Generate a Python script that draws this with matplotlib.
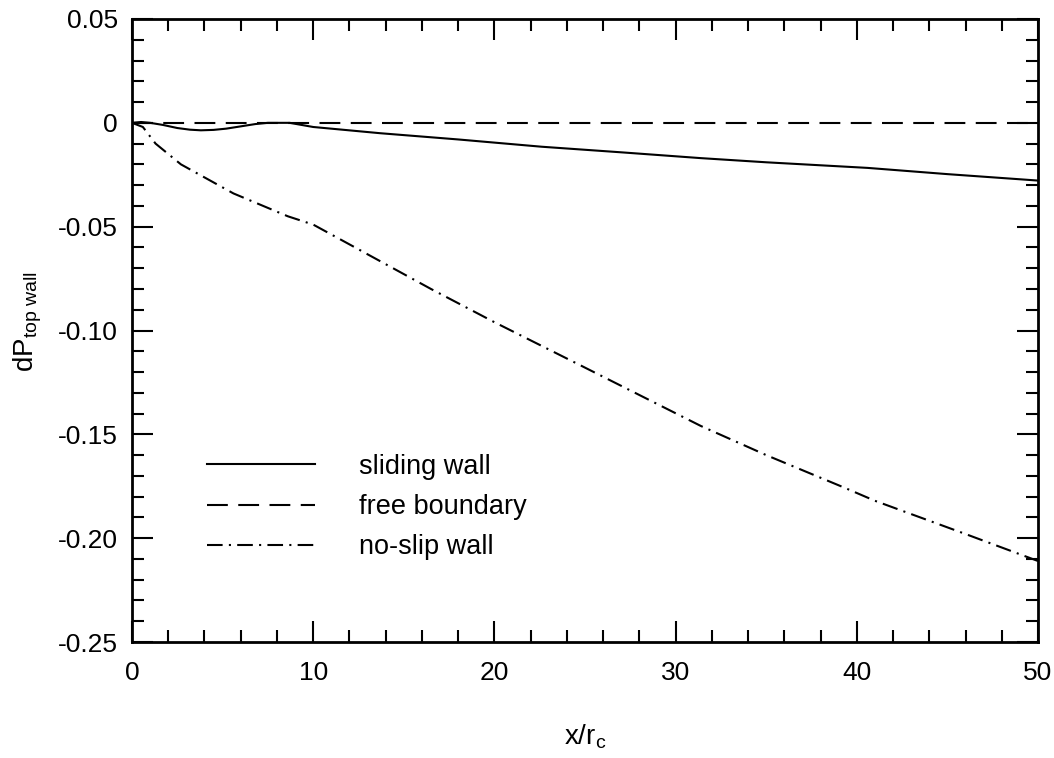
import matplotlib
matplotlib.use("Agg")
import matplotlib.pyplot as plt
from matplotlib.ticker import MultipleLocator, FixedLocator, FixedFormatter

plt.rcParams["font.family"] = ["Liberation Sans", "DejaVu Sans"]
plt.rcParams["mathtext.fontset"] = "custom"
plt.rcParams["mathtext.rm"] = "Liberation Sans"
plt.rcParams["mathtext.it"] = "Liberation Sans:italic"
plt.rcParams["axes.unicode_minus"] = False

# sliding wall (solid)
x_sliding = [0, 0.5, 1.0, 1.7, 2.5, 3.2, 3.8, 4.5, 5.2, 6.0, 6.8, 7.5, 8.7, 10, 13.7, 18, 22.6, 27, 31.4, 35, 40.6, 45, 50]
y_sliding = [0, 0.0004, 0, -0.001, -0.0025, -0.0033, -0.0036, -0.0034, -0.0028, -0.0017, -0.0006, 0, 0,
             -0.002, -0.005, -0.008, -0.0115, -0.0142, -0.017, -0.019, -0.0217, -0.0247, -0.0278]

# free boundary (dashed)
x_free = [0, 10, 20, 30, 40, 50]
y_free = [0, 0, 0, 0, 0, 0]

# no-slip wall (dash-dot)
x_noslip = [0, 0.6, 1.3, 2.7, 5.6, 8.6, 10, 12.1, 16.5, 20, 24.8, 31.4, 35, 39.4, 41, 46, 50]
y_noslip = [0, -0.002, -0.010, -0.020, -0.034, -0.045, -0.049, -0.059, -0.080, -0.096,
            -0.117, -0.146, -0.160, -0.176, -0.182, -0.198, -0.211]

xticks = [0, 10, 20, 30, 40, 50]
xtick_labels = ["0", "10", "20", "30", "40", "50"]
yticks = [0.05, 0, -0.05, -0.10, -0.15, -0.20, -0.25]
ytick_labels = ["0.05", "0", "-0.05", "-0.10", "-0.15", "-0.20", "-0.25"]

fig = plt.figure(figsize=(10.54, 7.58), dpi=100)
ax = fig.add_axes([132 / 1054, 1 - 642 / 758, (1038 - 132) / 1054, (642 - 19) / 758])

lw = 1.5
ax.plot(x_sliding, y_sliding, color="black", lw=lw, linestyle="-", label="sliding wall")
ax.plot(x_free, y_free, color="black", lw=lw, linestyle=(0, (10, 5)), label="free boundary")
ax.plot(x_noslip, y_noslip, color="black", lw=lw, linestyle=(0, (7.5, 3, 1, 3)), label="no-slip wall")

ax.set_xlim(0, 50)
ax.set_ylim(-0.25, 0.05)
ax.xaxis.set_major_locator(FixedLocator(xticks))
ax.xaxis.set_major_formatter(FixedFormatter(xtick_labels))
ax.xaxis.set_minor_locator(MultipleLocator(2))
ax.yaxis.set_major_locator(FixedLocator(yticks))
ax.yaxis.set_major_formatter(FixedFormatter(ytick_labels))
ax.yaxis.set_minor_locator(MultipleLocator(0.01))

ax.tick_params(which="both", direction="in", top=True, right=True, width=1.5, colors="black")
ax.tick_params(which="major", length=15, labelsize=19, pad=10)
ax.tick_params(axis="x", which="major", pad=14)
ax.tick_params(which="minor", length=8.5)
for s in ax.spines.values():
    s.set_linewidth(2)

ax.set_xlabel("x/r$_\\mathrm{c}$", fontsize=20)
ax.xaxis.set_label_coords(0.5, -0.13)
ax.set_ylabel("dP$_\\mathrm{top\\ wall}$", fontsize=20)
ax.yaxis.set_label_coords(-0.097, 0.515)

ax.legend(loc="center left", bbox_to_anchor=(207 / 1054, 1 - 507 / 758), bbox_transform=fig.transFigure,
          frameon=False, fontsize=19.5, handlelength=4.0, handletextpad=1.6, labelspacing=0.52,
          borderpad=0, borderaxespad=0)

fig.savefig("out.png", dpi=100)
